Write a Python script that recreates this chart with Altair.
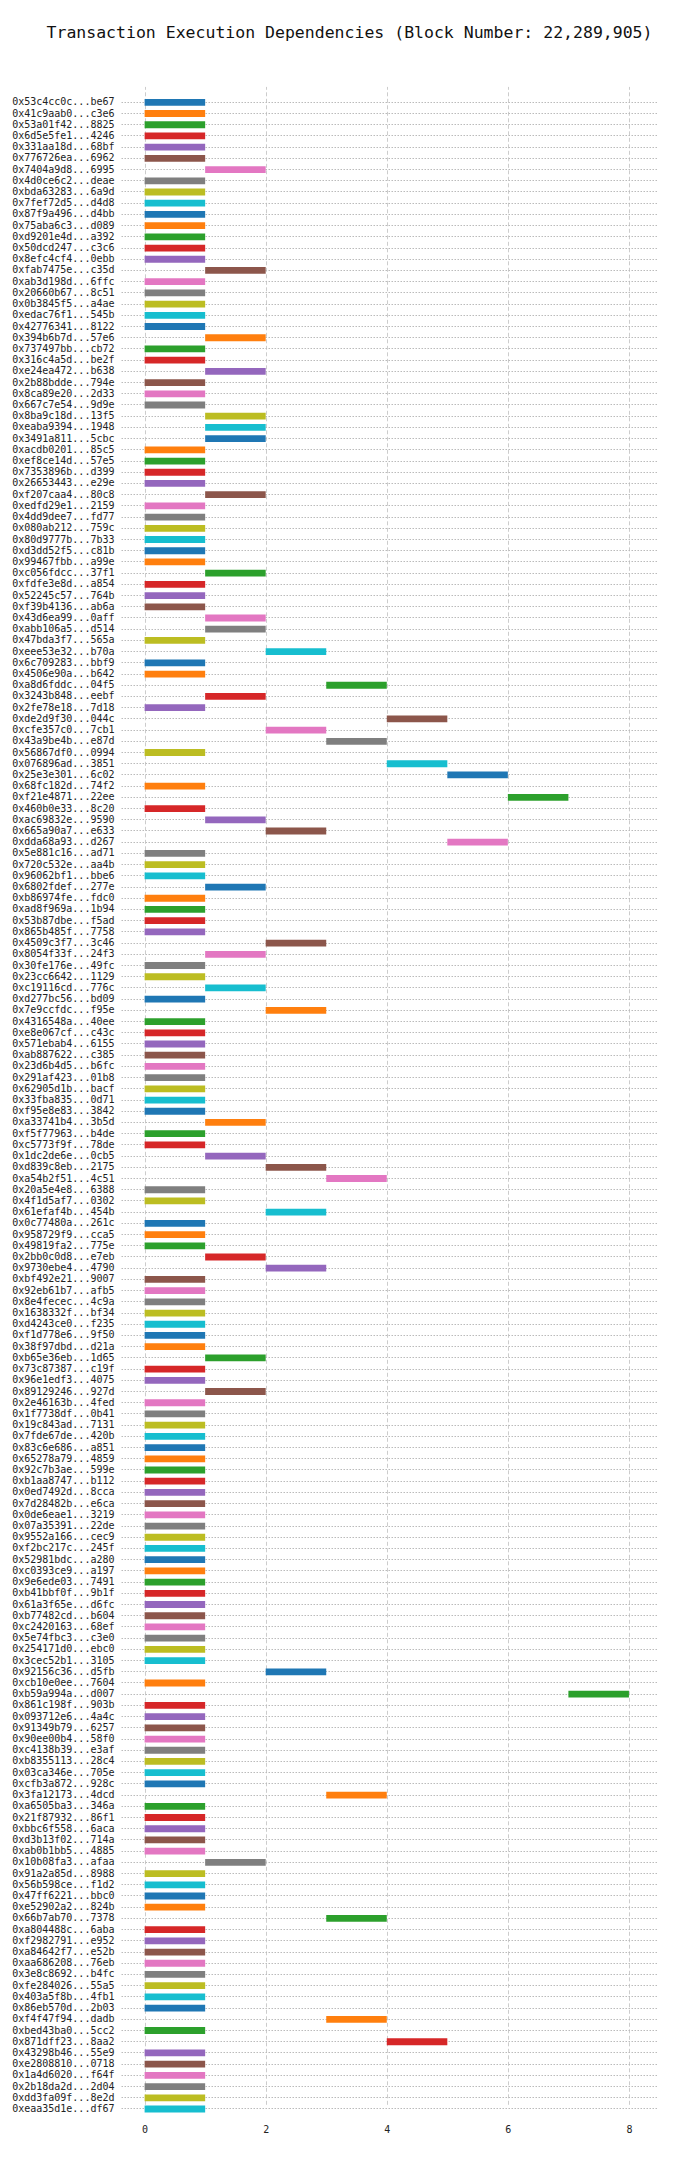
import altair as alt
import pandas as pd

title_text = "Transaction Execution Dependencies (Block Number: 22,289,905)"

tx_labels = [
    "0x53c4cc0c...be67", "0x41c9aab0...c3e6", "0x53a01f42...8825", "0x6d5e5fe1...4246", "0x331aa18d...68bf",
    "0x776726ea...6962", "0x7404a9d8...6995", "0x4d0ce6c2...deae", "0xbda63283...6a9d", "0x7fef72d5...d4d8",
    "0x87f9a496...d4bb", "0x75aba6c3...d089", "0xd9201e4d...a392", "0x50dcd247...c3c6", "0x8efc4cf4...0ebb",
    "0xfab7475e...c35d", "0xab3d198d...6ffc", "0x20660b67...8c51", "0x0b3845f5...a4ae", "0xedac76f1...545b",
    "0x42776341...8122", "0x394b6b7d...57e6", "0x737497bb...cb72", "0x316c4a5d...be2f", "0xe24ea472...b638",
    "0x2b88bdde...794e", "0x8ca89e20...2d33", "0x667c7e54...9d9e", "0x8ba9c18d...13f5", "0xeaba9394...1948",
    "0x3491a811...5cbc", "0xacdb0201...85c5", "0xef8ce14d...57e5", "0x7353896b...d399", "0x26653443...e29e",
    "0xf207caa4...80c8", "0xedfd29e1...2159", "0x4dd9dee7...fd77", "0x080ab212...759c", "0x80d9777b...7b33",
    "0xd3dd52f5...c81b", "0x99467fbb...a99e", "0xc056fdcc...37f1", "0xfdfe3e8d...a854", "0x52245c57...764b",
    "0xf39b4136...ab6a", "0x43d6ea99...0aff", "0xabb106a5...d514", "0x47bda3f7...565a", "0xeee53e32...b70a",
    "0x6c709283...bbf9", "0x4506e90a...b642", "0xa8d6fddc...04f5", "0x3243b848...eebf", "0x2fe78e18...7d18",
    "0xde2d9f30...044c", "0xcfe357c0...7cb1", "0x43a9be4b...e87d", "0x56867df0...0994", "0x076896ad...3851",
    "0x25e3e301...6c02", "0x68fc182d...74f2", "0xf21e4871...22ee", "0x460b0e33...8c20", "0xac69832e...9590",
    "0x665a90a7...e633", "0xdda68a93...d267", "0x5e881c16...ad71", "0x720c532e...aa4b", "0x96062bf1...bbe6",
    "0x6802fdef...277e", "0xb86974fe...fdc0", "0xad8f969a...1b94", "0x53b87dbe...f5ad", "0x865b485f...7758",
    "0x4509c3f7...3c46", "0x8054f33f...24f3", "0x30fe176e...49fc", "0x23cc6642...1129", "0xc19116cd...776c",
    "0xd277bc56...bd09", "0x7e9ccfdc...f95e", "0x4316548a...40ee", "0xe8e067cf...c43c", "0x571ebab4...6155",
    "0xab887622...c385", "0x23d6b4d5...b6fc", "0x291af423...01b8", "0x62905d1b...bacf", "0x33fba835...0d71",
    "0xf95e8e83...3842", "0xa33741b4...3b5d", "0xf5f77963...b4de", "0xc5773f9f...78de", "0x1dc2de6e...0cb5",
    "0xd839c8eb...2175", "0xa54b2f51...4c51", "0x20a5e4e8...6388", "0x4f1d5af7...0302", "0x61efaf4b...454b",
    "0x0c77480a...261c", "0x958729f9...cca5", "0x49819fa2...775e", "0x2bb0c0d8...e7eb", "0x9730ebe4...4790",
    "0xbf492e21...9007", "0x92eb61b7...afb5", "0x8e4fecec...4c9a", "0x1638332f...bf34", "0xd4243ce0...f235",
    "0xf1d778e6...9f50", "0x38f97dbd...d21a", "0xb65e36eb...1d65", "0x73c87387...c19f", "0x96e1edf3...4075",
    "0x89129246...927d", "0x2e46163b...4fed", "0x1f7738df...0b41", "0x19c843ad...7131", "0x7fde67de...420b",
    "0x83c6e686...a851", "0x65278a79...4859", "0x92c7b3ae...599e", "0xb1aa8747...b112", "0x0ed7492d...8cca",
    "0x7d28482b...e6ca", "0x0de6eae1...3219", "0x07a35391...22de", "0x9552a166...cec9", "0xf2bc217c...245f",
    "0x52981bdc...a280", "0xc0393ce9...a197", "0x9e6ede03...7491", "0xb41bbf0f...9b1f", "0x61a3f65e...d6fc",
    "0xb77482cd...b604", "0xc2420163...68ef", "0x5e74fbc3...c3e0", "0x254171d0...ebc0", "0x3cec52b1...3105",
    "0x92156c36...d5fb", "0xcb10e0ee...7604", "0xb59a994a...d007", "0x861c198f...903b", "0x093712e6...4a4c",
    "0x91349b79...6257", "0x90ee00b4...58f0", "0xc4138b39...e3af", "0xb8355113...28c4", "0x03ca346e...705e",
    "0xcfb3a872...928c", "0x3fa12173...4dcd", "0xa6505ba3...346a", "0x21f87932...86f1", "0xbbc6f558...6aca",
    "0xd3b13f02...714a", "0xab0b1bb5...4885", "0x10b08fa3...afaa", "0x91a2a85d...8988", "0x56b598ce...f1d2",
    "0x47ff6221...bbc0", "0xe52902a2...824b", "0x66b7ab70...7378", "0xa804488c...6aba", "0xf2982791...e952",
    "0xa84642f7...e52b", "0xaa686208...76eb", "0x3e8c8692...b4fc", "0xfe284026...55a5", "0x403a5f8b...4fb1",
    "0x86eb570d...2b03", "0xf4f47f94...dadb", "0xbed43ba0...5cc2", "0x871dff23...8aa2", "0x43298b46...55e9",
    "0xe2808810...0718", "0x1a4d6020...f64f", "0x2b18da2d...2d04", "0xdd3fa09f...8e2d", "0xeaa35d1e...df67",
]

start_times = [
    0, 0, 0, 0, 0, 0, 1, 0, 0, 0, 0, 0, 0, 0, 0,
    1, 0, 0, 0, 0, 0, 1, 0, 0, 1, 0, 0, 0, 1, 1,
    1, 0, 0, 0, 0, 1, 0, 0, 0, 0, 0, 0, 1, 0, 0,
    0, 1, 1, 0, 2, 0, 0, 3, 1, 0, 4, 2, 3, 0, 4,
    5, 0, 6, 0, 1, 2, 5, 0, 0, 0, 1, 0, 0, 0, 0,
    2, 1, 0, 0, 1, 0, 2, 0, 0, 0, 0, 0, 0, 0, 0,
    0, 1, 0, 0, 1, 2, 3, 0, 0, 2, 0, 0, 0, 1, 2,
    0, 0, 0, 0, 0, 0, 0, 1, 0, 0, 1, 0, 0, 0, 0,
    0, 0, 0, 0, 0, 0, 0, 0, 0, 0, 0, 0, 0, 0, 0, 0,
    0, 0, 0, 0, 2, 0, 7, 0, 0, 0, 0, 0, 0, 0, 0,
    3, 0, 0, 0, 0, 0, 1, 0, 0, 0, 0, 3, 0, 0, 0,
    0, 0, 0, 0, 0, 3, 0, 4, 0, 0, 0, 0, 0, 0,
]

DURATION = 1
x_ticks = [0, 2, 4, 6, 8]
palette = ["#1f77b4", "#ff7f0e", "#2ca02c", "#d62728", "#9467bd",
           "#8c564b", "#e377c2", "#7f7f7f", "#bcbd22", "#17becf"]

df = pd.DataFrame({"tx": tx_labels, "start": start_times})

FONT = "DejaVu Sans Mono"
PLOT_H = 2031

chart = (
    alt.Chart(df)
    .transform_calculate(end=f"datum.start + {DURATION}")
    .mark_bar(size=6.8)
    .encode(
        x=alt.X("start:Q",
                scale=alt.Scale(domain=[-0.39, 8.48], nice=False, zero=False),
                axis=alt.Axis(values=x_ticks, title=None, grid=True, gridColor="#cccccc",
                              gridDash=[4, 2.5], gridWidth=1, domain=False, ticks=False,
                              labelFont=FONT, labelFontSize=10, labelColor="#222222",
                              labelPadding=8, format="d")),
        x2="end:Q",
        y=alt.Y("tx:N", sort=tx_labels,
                scale=alt.Scale(range=[11.7, 2029.6], paddingInner=0, paddingOuter=0),
                axis=alt.Axis(title=None, grid=True, gridColor="#bbbbbb", gridDash=[1.5, 1.5],
                              gridWidth=1, bandPosition=0.5, domain=False, ticks=False,
                              labelFont=FONT, labelFontSize=10, labelColor="#222222",
                              labelPadding=7, labelLimit=200)),
        color=alt.Color("tx:N", scale=alt.Scale(domain=tx_labels, range=palette), legend=None),
    )
    .properties(
        width=537,
        height=PLOT_H,
        autosize=alt.AutoSizeParams(type="none"),
        padding={"left": 113, "top": 77, "right": 34, "bottom": 30},
        title=alt.TitleParams(title_text, font=FONT, fontSize=16.5, fontWeight="normal",
                              color="#111111", offset=44, dx=-40, anchor="middle"),
    )
    .configure_view(stroke=None)
)

chart.save("out.html", embed_options={"renderer": "svg", "actions": False})
